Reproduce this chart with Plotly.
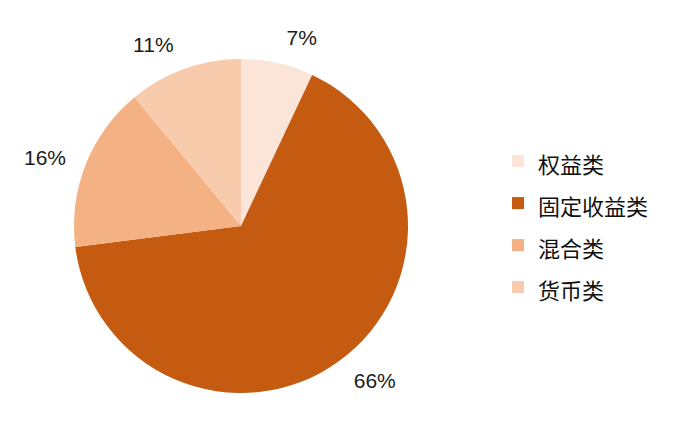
import plotly.graph_objects as go

# 资产类别及占比
categories = ["权益类", "固定收益类", "混合类", "货币类"]
shares = [7, 66, 16, 11]
colors = ["#FBE5D9", "#C55A11", "#F4B183", "#F8CBAD"]

W, H = 700, 441
OFF = 8          # 页面 body 默认边距
CX, CY, R = 241, 226, 167
R_TXT = R + 15   # 百分比标签所在的外圈半径


def dom(r):
    cx, cy = CX - OFF, CY - OFF
    return dict(x=[(cx - r) / W, (cx + r) / W], y=[1 - (cy + r) / H, 1 - (cy - r) / H])


# 饼图本体
pie = go.Pie(
    labels=[f"<span style='font-size:22px'>{c}</span>" for c in categories],
    values=shares,
    sort=False,
    direction="clockwise",
    rotation=0,
    marker=dict(colors=colors, line=dict(width=0)),
    textinfo="none",
    hovertemplate="%{label}: %{percent:.0%}<extra></extra>",
    domain=dom(R),
    showlegend=True,
)

# 透明外圈，只用来放外侧百分比标签
label_ring = go.Pie(
    labels=categories,
    values=shares,
    sort=False,
    direction="clockwise",
    rotation=0,
    marker=dict(colors=["rgba(0,0,0,0)"] * len(shares), line=dict(width=0)),
    texttemplate="%{percent:.0%}",
    textposition="outside",
    outsidetextfont=dict(family="Liberation Sans, Arial", size=21, color="#1a1a1a"),
    hoverinfo="skip",
    domain=dom(R_TXT),
    showlegend=False,
)

fig = go.Figure([label_ring, pie])

fig.update_layout(
    width=W,
    height=H,
    margin=dict(l=0, r=0, t=0, b=0),
    paper_bgcolor="white",
    legend=dict(
        x=0.70, y=0.51, xanchor="left", yanchor="middle",
        font=dict(family="Noto Sans CJK SC", size=30, color="#111111"),
        itemclick=False,
    ),
)

fig.write_html("out.html")
